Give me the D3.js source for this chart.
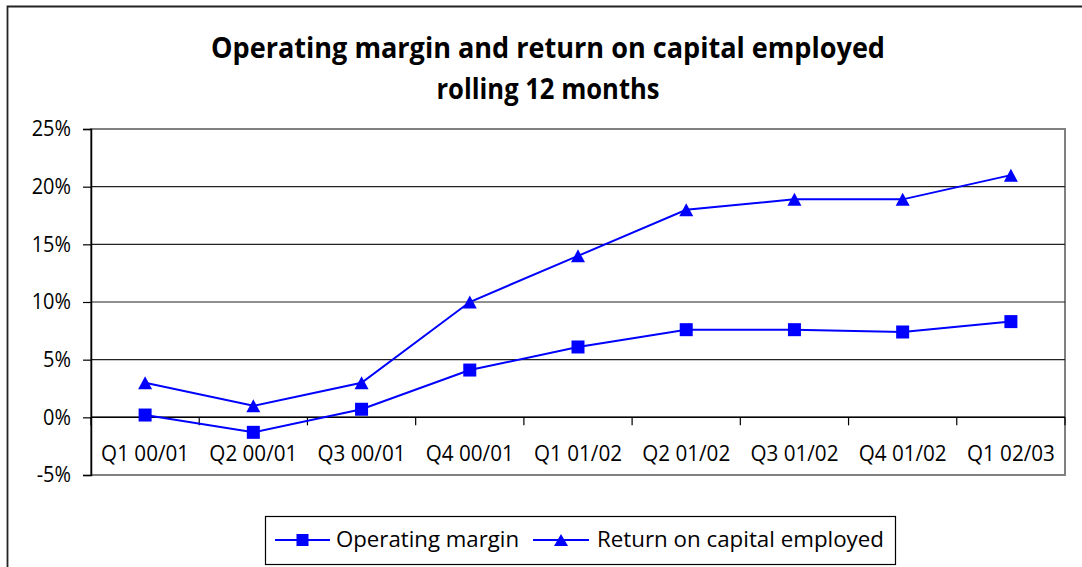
<!DOCTYPE html>
<html>
<head>
<meta charset="utf-8">
<script src="https://cdn.jsdelivr.net/npm/d3@7"></script>
<style>
  html, body { margin: 0; padding: 0; background: #fff; }
  svg { display: block; }
  text { font-family: "Open Sans", "Noto Sans", "DejaVu Sans", sans-serif; fill: #000; }
</style>
</head>
<body>
<svg id="chart" width="1082" height="567"></svg>
<script>
const categories = ["Q1 00/01","Q2 00/01","Q3 00/01","Q4 00/01","Q1 01/02","Q2 01/02","Q3 01/02","Q4 01/02","Q1 02/03"];
const operatingMargin = [0.2, -1.3, 0.7, 4.1, 6.1, 7.6, 7.6, 7.4, 8.3];
const returnOnCapital = [3.0, 1.0, 3.0, 10.0, 14.0, 18.0, 18.9, 18.9, 21.0];
const yTicks = [-5, 0, 5, 10, 15, 20, 25];
const titleLines = ["Operating margin and return on capital employed", "rolling 12 months"];
const seriesNames = ["Operating margin", "Return on capital employed"];

const svg = d3.select("#chart");
const blue = "#0000FF";

// outer chart border
svg.append("path").attr("d", "M7.5,1000 L7.5,6.5 L1100,6.5")
  .attr("fill", "none").attr("stroke", "#222").attr("stroke-width", 1.8);

const L = 91, R = 1065, T = 129, B = 475;
const x = d3.scaleBand().domain(categories).range([L, R]).padding(0);
const y = d3.scaleLinear().domain([-5, 25]).range([B, T]);
const cx = c => x(c) + x.bandwidth() / 2;

// plot area border
svg.append("rect").attr("x", L).attr("y", T).attr("width", R - L).attr("height", B - T)
  .attr("fill", "none").attr("stroke", "#808080").attr("stroke-width", 2);

// gridlines
svg.append("g").selectAll("line").data(yTicks.filter(v => v > -5 && v < 25)).join("line")
  .attr("x1", L).attr("x2", R).attr("y1", d => y(d)).attr("y2", d => y(d))
  .attr("stroke", "#222").attr("stroke-width", 1.2);

// y axis
const yAxis = svg.append("g").attr("transform", `translate(${L},0)`)
  .call(d3.axisLeft(y).tickValues(yTicks).tickSize(8).tickPadding(12).tickFormat(d => d + "%"));
yAxis.select(".domain").attr("stroke", "#000").attr("stroke-width", 1.5);
yAxis.selectAll(".tick line").attr("stroke", "#000").attr("stroke-width", 1.2);
yAxis.selectAll(".tick text").attr("font-size", 21).attr("fill", "#000")
  .attr("font-family", "'Open Sans', sans-serif")
  .each(function() {
    const w = this.getComputedTextLength();
    d3.select(this).attr("textLength", w * 0.95).attr("lengthAdjust", "spacingAndGlyphs");
  });

// x (category) axis at 0
const xg = svg.append("g");
xg.append("line").attr("x1", L).attr("x2", R).attr("y1", y(0)).attr("y2", y(0))
  .attr("stroke", "#000").attr("stroke-width", 1.5);
const bounds = categories.map(c => x(c)).concat([R]);
xg.selectAll("line.tk").data(bounds).join("line").attr("class", "tk")
  .attr("x1", d => d).attr("x2", d => d).attr("y1", y(0)).attr("y2", y(0) + 8)
  .attr("stroke", "#000").attr("stroke-width", 1.2);
xg.selectAll("text").data(categories).join("text")
  .attr("x", d => cx(d)).attr("y", 461).attr("text-anchor", "middle")
  .attr("font-size", 21).text(d => d)
  .attr("textLength", 88).attr("lengthAdjust", "spacingAndGlyphs");

// series
const line = d3.line().x((d, i) => cx(categories[i])).y(d => y(d));
const triPath = (px, py, w, h) => `M${px},${py - h/2} L${px + w/2},${py + h/2} L${px - w/2},${py + h/2} Z`;

svg.append("path").datum(operatingMargin).attr("d", line)
  .attr("fill", "none").attr("stroke", blue).attr("stroke-width", 2);
svg.append("path").datum(returnOnCapital).attr("d", line)
  .attr("fill", "none").attr("stroke", blue).attr("stroke-width", 2);

svg.append("g").selectAll("rect").data(operatingMargin).join("rect")
  .attr("x", (d, i) => cx(categories[i]) - 6.5).attr("y", d => y(d) - 6.5)
  .attr("width", 13).attr("height", 13).attr("fill", blue);
svg.append("g").selectAll("path").data(returnOnCapital).join("path")
  .attr("d", (d, i) => triPath(cx(categories[i]), y(d), 14, 13)).attr("fill", blue);

// title
const titleWidths = [674, 223];
const titleBase = [58, 99];
titleLines.forEach((t, i) => {
  svg.append("text").attr("x", 548).attr("y", titleBase[i]).attr("text-anchor", "middle")
    .attr("font-size", 28).attr("font-weight", "bold").text(t)
    .attr("textLength", titleWidths[i]).attr("lengthAdjust", "spacingAndGlyphs");
});

// legend
const lg = svg.append("g");
lg.append("rect").attr("x", 265.5).attr("y", 516.5).attr("width", 630).attr("height", 48)
  .attr("fill", "#fff").attr("stroke", "#000").attr("stroke-width", 1.2);
const legendItems = [
  { name: seriesNames[0], x1: 275, x2: 330, tx: 336, tw: 183, marker: "square" },
  { name: seriesNames[1], x1: 533, x2: 589, tx: 597, tw: 287, marker: "triangle" }
];
const ly = 540;
legendItems.forEach(it => {
  lg.append("line").attr("x1", it.x1).attr("x2", it.x2).attr("y1", ly).attr("y2", ly)
    .attr("stroke", blue).attr("stroke-width", 2);
  const mx = (it.x1 + it.x2) / 2;
  if (it.marker === "square") {
    lg.append("rect").attr("x", mx - 6).attr("y", ly - 6).attr("width", 12).attr("height", 12).attr("fill", blue);
  } else {
    lg.append("path").attr("d", triPath(mx, ly, 14, 12)).attr("fill", blue);
  }
  lg.append("text").attr("x", it.tx).attr("y", 546.5).attr("font-size", 22).text(it.name)
    .attr("textLength", it.tw).attr("lengthAdjust", "spacingAndGlyphs");
});
</script>
</body>
</html>
